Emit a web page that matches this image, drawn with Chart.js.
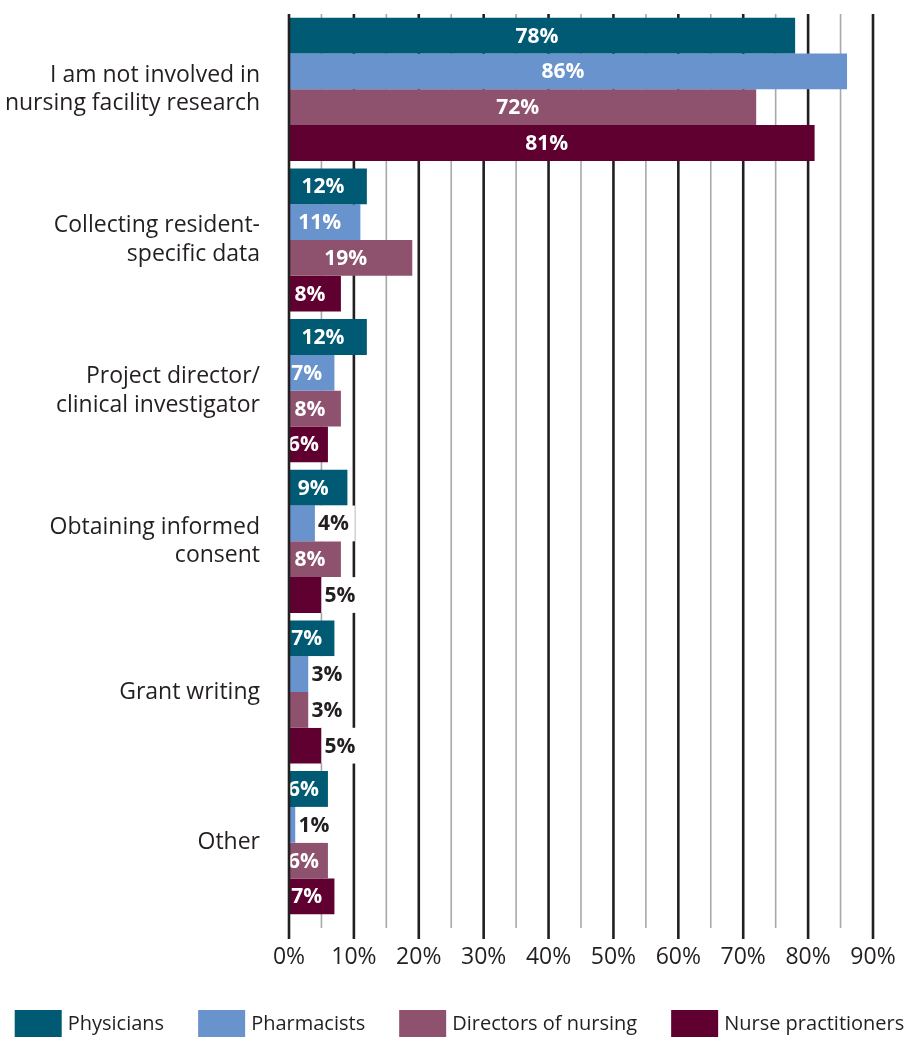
<!DOCTYPE html>
<html>
<head>
<meta charset="utf-8">
<script src="https://cdn.jsdelivr.net/npm/chart.js@4.4.1/dist/chart.umd.min.js"></script>
<style>
  html, body { margin: 0; padding: 0; background: #fff; }
</style>
</head>
<body>
<canvas id="chart" width="911" height="1040"></canvas>
<script>
// カテゴリ（複数行ラベル）
const categories = [
    ['I am not involved in', 'nursing facility research'],
    ['Collecting resident-', 'specific data'],
    ['Project director/', 'clinical investigator'],
    ['Obtaining informed', 'consent'],
    ['Grant writing'],
    ['Other']
];

// 系列ごとの値（%）
const physicians = [78, 12, 12, 9, 7, 6];
const pharmacists = [86, 11, 7, 4, 3, 1];
const directorsOfNursing = [72, 19, 8, 8, 3, 6];
const nursePractitioners = [81, 8, 6, 5, 5, 7];

const seriesNames = ['Physicians', 'Pharmacists', 'Directors of nursing', 'Nurse practitioners'];

// 軸の範囲
const X_MIN = 0;
const X_MAX = 90;
const X_STEP = 10;

const INK = '#231f20';
const FONT = '"Open Sans", "Noto Sans", sans-serif';
const INSIDE_MIN = 6; // これ未満の値はバーの外にラベルを出す

/**
 * 目盛り線・値ラベル・ゼロ軸を描くプラグイン
 */
const gridAndLabels = {
    id: 'gridAndLabels',
    beforeDatasetsDraw(chart) {
        const { ctx, chartArea, scales: { x } } = chart;
        ctx.save();
        for (let v = X_MIN + 5; v <= X_MAX; v += 5) {
            const px = x.getPixelForValue(v);
            const major = v % 10 === 0;
            ctx.beginPath();
            ctx.strokeStyle = major ? INK : '#a7a9ac';
            ctx.lineWidth = major ? 2.6 : 1.6;
            ctx.moveTo(px, chartArea.top);
            ctx.lineTo(px, chartArea.bottom + (major ? 21 : 10));
            ctx.stroke();
        }
        ctx.restore();
    },
    afterDatasetsDraw(chart) {
        const { ctx, chartArea, scales: { x } } = chart;
        ctx.save();
        ctx.font = `bold 21px ${FONT}`;
        ctx.textBaseline = 'middle';
        chart.data.datasets.forEach((ds, i) => {
            chart.getDatasetMeta(i).data.forEach((bar, j) => {
                const value = ds.data[j];
                const text = `${value}%`;
                if (value >= INSIDE_MIN) {
                    // バー中央より少し左寄せ
                    ctx.fillStyle = '#fff';
                    ctx.textAlign = 'center';
                    ctx.fillText(text, (bar.x + bar.base) / 2 - 5, bar.y + 1);
                } else {
                    // 小さいバーは白い下地を敷いて外側に表示
                    const w = ctx.measureText(text).width;
                    ctx.fillStyle = '#fff';
                    ctx.fillRect(bar.x, bar.y - bar.height / 2, w + 9, bar.height);
                    ctx.fillStyle = INK;
                    ctx.textAlign = 'left';
                    ctx.fillText(text, bar.x + 3, bar.y + 1);
                }
            });
        });

        // ゼロの軸線はバーの上に重ねる
        const x0 = x.getPixelForValue(0);
        ctx.beginPath();
        ctx.strokeStyle = INK;
        ctx.lineWidth = 2.6;
        ctx.moveTo(x0, chartArea.top);
        ctx.lineTo(x0, chartArea.bottom + 21);
        ctx.stroke();
        ctx.restore();
    }
};

/**
 * 凡例を一行で描くプラグイン（標準の凡例だと折り返すため）
 */
const legendRow = {
    id: 'legendRow',
    afterDraw(chart) {
        const { ctx } = chart;
        const boxW = 47, boxH = 27, textGap = 6, itemGap = 34;
        const top = chart.height - 30;
        ctx.save();
        ctx.font = `20px ${FONT}`;
        const items = chart.data.datasets.map(ds => ({
            label: ds.label,
            color: ds.backgroundColor,
            width: boxW + textGap + ctx.measureText(ds.label).width
        }));
        const total = items.reduce((s, it) => s + it.width, 0) + itemGap * (items.length - 1);
        let x = (chart.width - total) / 2 + 4;
        ctx.textBaseline = 'middle';
        ctx.textAlign = 'left';
        items.forEach(it => {
            ctx.fillStyle = it.color;
            ctx.fillRect(x, top, boxW, boxH);
            ctx.fillStyle = INK;
            ctx.fillText(it.label, x + boxW + textGap, top + boxH / 2 + 1);
            x += it.width + itemGap;
        });
        ctx.restore();
    }
};

const colors = ['#005a74', '#6993cd', '#8f526e', '#5f0030'];
const values = [physicians, pharmacists, directorsOfNursing, nursePractitioners];

new Chart(document.getElementById('chart'), {
    type: 'bar',
    data: {
        labels: categories,
        datasets: seriesNames.map((name, i) => ({
            label: name,
            data: values[i],
            backgroundColor: colors[i],
            borderWidth: 0,
            categoryPercentage: 0.95,
            barPercentage: 1.0
        }))
    },
    options: {
        indexAxis: 'y',
        responsive: false,
        animation: false,
        layout: { padding: { top: 14, right: 38, left: 0, bottom: 54 } },
        plugins: {
            tooltip: { enabled: false },
            legend: { display: false }
        },
        scales: {
            x: {
                min: X_MIN,
                max: X_MAX,
                grid: { display: false, drawTicks: false },
                border: { display: false },
                ticks: {
                    stepSize: X_STEP,
                    padding: 26,
                    color: INK,
                    font: { family: FONT, size: 23 },
                    callback: v => `${v}%`
                },
                afterFit(scale) {
                    scale.height = 68;
                    scale.paddingLeft = 0;
                    scale.paddingRight = 0;
                }
            },
            y: {
                grid: { display: false, drawTicks: false },
                border: { display: false },
                ticks: {
                    padding: 29,
                    color: INK,
                    font: { family: FONT, size: 23, lineHeight: 1.25 }
                },
                afterFit(scale) {
                    scale.width = 289;
                    scale.paddingTop = 0;
                    scale.paddingBottom = 0;
                }
            }
        }
    },
    plugins: [gridAndLabels, legendRow]
});
</script>
</body>
</html>
